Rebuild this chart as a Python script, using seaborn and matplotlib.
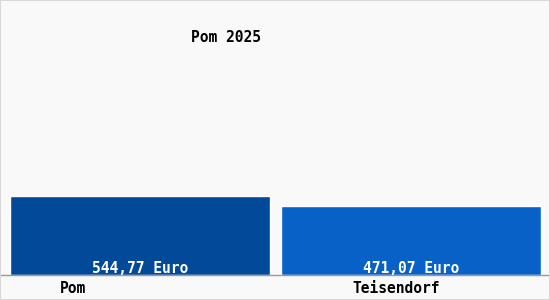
import matplotlib
matplotlib.use("Agg")
import matplotlib.pyplot as plt
import seaborn as sns
import pandas as pd
from matplotlib.patches import Rectangle

categories = ["Pom", "Teisendorf"]
values = [544.77, 471.07]
value_labels = ["544,77 Euro", "471,07 Euro"]
title = "Pom 2025"
bar_colors = ["#03499a", "#0761c6"]

sns.set_theme(style="white")
plt.rcParams["font.family"] = ["DejaVu Sans Mono", "DejaVu Sans"]

df = pd.DataFrame({"cat": categories, "val": values})

fig = plt.figure(figsize=(5.5, 3.0), dpi=100, facecolor="#f9f9f9")
ax = fig.add_axes([0, 25/300, 1, 1 - 25/300])
ax.set_facecolor("#f9f9f9")

sns.barplot(data=df, x="cat", y="val", hue="cat", palette=bar_colors,
            width=0.963, legend=False, ax=ax, saturation=1)

ax.set_xlim(-0.5185, 1.5148)
ax.set_ylim(0, 1890)
ax.set_yticks([])
ax.set_xlabel("")
ax.set_ylabel("")
for s in ["top", "left", "right"]:
    ax.spines[s].set_visible(False)
ax.spines["bottom"].set_color("#999999")
ax.spines["bottom"].set_linewidth(1)

offsets = [-0.25, -0.055]
ax.set_xticks([i + o for i, o in enumerate(offsets)])
ax.set_xticklabels(categories, fontsize=10.5, color="black", fontweight="bold")
ax.tick_params(axis="x", length=0, pad=4)

for i, lab in enumerate(value_labels):
    ax.annotate(lab, xy=(i, 0), xytext=(0, -0.5), textcoords="offset points",
                ha="center", va="bottom", color="white", fontsize=10.5,
                fontweight="bold")

fig.text(226/550, 1 - 38/300, title, ha="center", va="center",
         fontsize=10.5, color="black", fontweight="bold")

fig.patches.append(Rectangle((0, 0), 1, 1, transform=fig.transFigure,
                             fill=False, edgecolor="#d8d8d8", linewidth=1.5))

fig.savefig("out.png", dpi=100, facecolor=fig.get_facecolor())
